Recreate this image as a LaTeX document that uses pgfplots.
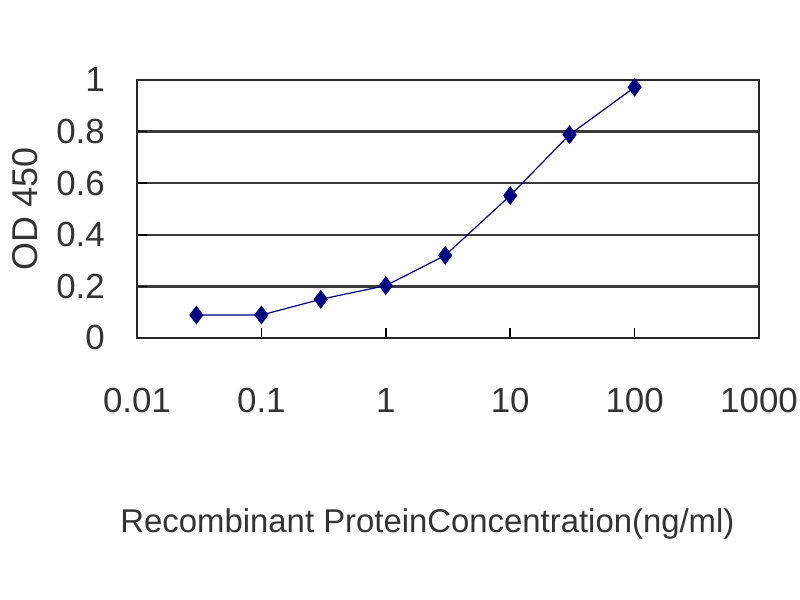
\documentclass[border=0pt]{standalone}
\usepackage{fontspec}
\setmainfont{Liberation Sans}
\usepackage{pgfplots}
\pgfplotsset{compat=1.18}
\definecolor{navy}{HTML}{000080}
\definecolor{gridc}{HTML}{3A3A3A}

\begin{document}
\begin{tikzpicture}[x=1bp,y=1bp]
\path[use as bounding box] (0,0) rectangle (800,600);
\begin{axis}[
  at={(137bp,262bp)}, anchor=south west,
  scale only axis, width=622bp, height=258bp,
  xmode=log, xmin=0.01, xmax=1000, ymin=0, ymax=1,
  xtick={0.01,0.1,1,10,100,1000},
  xticklabels={0.01,0.1,1,10,100,1000},
  ytick={0,0.2,0.4,0.6,0.8,1},
  yticklabels={0,0.2,0.4,0.6,0.8,1},
  xminorticks=false,
  ymajorgrids, grid style={gridc, line width=2.5bp},
  axis line style={black!85, line width=1.5bp},
  tick align=inside, xtick pos=bottom, ytick pos=left,
  major tick length=10bp,
  tick style={black, line width=1.5bp},
  xticklabel style={anchor=north, inner sep=0pt, yshift=-50bp, font=\fontsize{35}{40}\selectfont, text=black!80},
  yticklabel style={anchor=east, inner sep=0pt, xshift=-32bp, font=\fontsize{35}{40}\selectfont, text=black!80},
  ylabel={OD 450},
  ylabel style={at={(axis description cs:-0.18,0.5)}, anchor=center, font=\fontsize{36}{40}\selectfont, text=black!80},
  xlabel={Recombinant ProteinConcentration(ng/ml)},
  xlabel style={at={(axis description cs:0.467,-0.72)}, anchor=center, font=\fontsize{33}{38}\selectfont, text=black!80},
  clip=false,
]
\addplot[navy, line width=1.2bp, mark=diamond*, mark size=8.5bp, mark options={fill=navy, solid}]
  coordinates {(0.03,0.089) (0.1,0.089) (0.3,0.15) (1,0.203) (3,0.32) (10,0.552) (30,0.788) (100,0.972)};
\end{axis}
\end{tikzpicture}
\end{document}
